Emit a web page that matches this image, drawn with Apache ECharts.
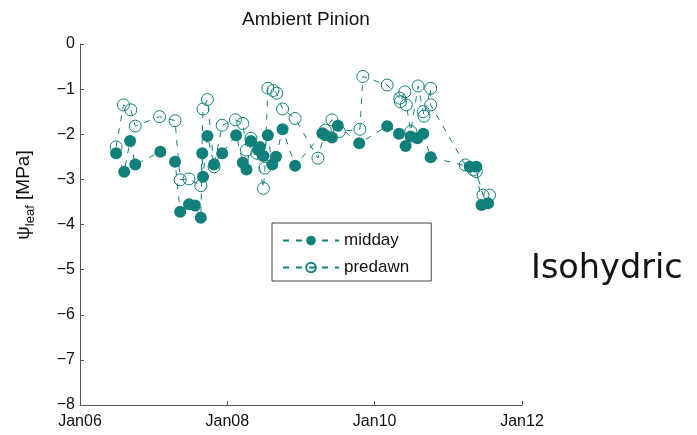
<!DOCTYPE html>
<html>
<head>
<meta charset="utf-8">
<script src="https://cdn.jsdelivr.net/npm/echarts@6/dist/echarts.min.js"></script>
<style>
  html, body { margin: 0; padding: 0; background: #fff; }
  #chart { width: 697px; height: 435px; }
</style>
</head>
<body>
<div id="chart"></div>
<script>
// dates are decimal years (2006.5 = mid 2006)
const middayDates = [2006.49, 2006.60, 2006.68, 2006.75, 2007.09, 2007.29, 2007.36, 2007.48, 2007.56, 2007.64,
  2007.66, 2007.67, 2007.73, 2007.82, 2007.93, 2008.12, 2008.21, 2008.26, 2008.32, 2008.42,
  2008.44, 2008.49, 2008.55, 2008.61, 2008.66, 2008.75, 2008.92, 2009.29, 2009.33, 2009.42,
  2009.50, 2009.79, 2010.17, 2010.33, 2010.42, 2010.49, 2010.58, 2010.66, 2010.76, 2011.29,
  2011.38, 2011.45, 2011.54]
const middayValues = [-2.42, -2.83, -2.15, -2.67, -2.39, -2.61, -3.72, -3.55, -3.58, -3.85,
  -2.42, -2.94, -2.04, -2.67, -2.42, -2.02, -2.63, -2.78, -2.15, -2.35,
  -2.28, -2.48, -2.02, -2.67, -2.50, -1.89, -2.70, -1.98, -2.02, -2.07,
  -1.81, -2.20, -1.82, -1.99, -2.26, -2.05, -2.09, -1.99, -2.51, -2.72,
  -2.72, -3.57, -3.53]

const predawnDates = [2006.49, 2006.59, 2006.69, 2006.75, 2007.08, 2007.29, 2007.36, 2007.48, 2007.64, 2007.67,
  2007.73, 2007.82, 2007.93, 2008.11, 2008.21, 2008.26, 2008.32, 2008.40, 2008.49, 2008.51,
  2008.55, 2008.62, 2008.67, 2008.75, 2008.92, 2009.23, 2009.33, 2009.42, 2009.52, 2009.80,
  2009.84, 2010.17, 2010.34, 2010.35, 2010.41, 2010.43, 2010.49, 2010.59, 2010.66, 2010.67,
  2010.76, 2010.76, 2011.23, 2011.34, 2011.38, 2011.47, 2011.56]
const predawnValues = [-2.28, -1.35, -1.46, -1.82, -1.61, -1.70, -3.01, -2.99, -3.14, -1.44,
  -1.23, -2.72, -1.80, -1.68, -1.76, -2.35, -2.09, -2.42, -3.20, -2.75,
  -0.98, -1.03, -1.09, -1.44, -1.65, -2.53, -1.91, -1.68, -1.94, -1.89,
  -0.72, -0.91, -1.20, -1.28, -1.06, -1.35, -1.94, -0.93, -1.50, -1.60,
  -0.98, -1.35, -2.68, -2.79, -2.83, -3.35, -3.35]

const yearTicks = [2006, 2008, 2010, 2012]
const teal = '#12807a'
const font = '"Liberation Sans", Arial, sans-serif'

const pairs = (xs, ys) => xs.map((x, i) => [x, ys[i]])

const chart = echarts.init(document.getElementById('chart'))
chart.setOption({
  animation: false,
  backgroundColor: '#fff',
  title: {
    text: 'Ambient Pinion',
    left: 301,
    top: 5,
    textAlign: 'center',
    textStyle: { fontFamily: font, fontSize: 19, fontWeight: 'normal', color: '#111' }
  },
  grid: { left: 80, right: 175, top: 44, bottom: 30 },
  legend: {
    orient: 'vertical',
    left: 272,
    top: 223,
    width: 159,
    padding: [9, 22, 5, 10],
    itemGap: 10,
    itemWidth: 56,
    itemHeight: 12,
    borderColor: '#444',
    borderWidth: 1,
    textStyle: { fontFamily: font, fontSize: 17, color: '#111' },
    data: ['midday', 'predawn']
  },
  xAxis: {
    type: 'value',
    min: 2006,
    max: 2012,
    interval: 2,
    axisLine: { onZero: false, lineStyle: { color: '#555', width: 1 } },
    axisTick: { inside: true, length: 4, lineStyle: { color: '#555' } },
    splitLine: { show: false },
    axisLabel: {
      margin: 9,
      fontFamily: font, fontSize: 16, color: '#111',
      formatter: v => yearTicks.includes(v) ? 'Jan' + String(v).slice(2) : ''
    }
  },
  yAxis: {
    type: 'value',
    min: -8,
    max: 0,
    interval: 1,
    axisLine: { show: true, onZero: false, lineStyle: { color: '#555', width: 1 } },
    axisTick: { show: true, inside: true, length: 4, lineStyle: { color: '#555' } },
    splitLine: { show: false },
    axisLabel: {
      margin: 5,
      fontFamily: font, fontSize: 16, color: '#111',
      formatter: v => v < 0 ? '\u2212' + Math.abs(v) : String(v)
    }
  },
  graphic: [
    {
      type: 'text',
      x: 24,
      y: 195,
      rotation: Math.PI / 2,
      style: {
        text: '{a|ψ}{b|leaf}{a| [MPa]}',
        align: 'center',
        verticalAlign: 'middle',
        fill: '#111',
        rich: {
          a: { fontFamily: font, fontSize: 19, fill: '#111' },
          b: { fontFamily: font, fontSize: 13, fill: '#111', padding: [12, 0, 0, 0] }
        }
      }
    },
    {
      type: 'text',
      left: 531,
      top: 252,
      style: { text: 'Isohydric', fontFamily: '"DejaVu Sans", sans-serif', fontSize: 33.5, fill: '#111' }
    }
  ],
  series: [
    {
      name: 'midday',
      type: 'line',
      data: pairs(middayDates, middayValues),
      symbol: 'circle',
      symbolSize: 12,
      itemStyle: { color: teal },
      lineStyle: { color: teal, width: 1, type: [6, 7] }
    },
    {
      name: 'predawn',
      type: 'line',
      data: pairs(predawnDates, predawnValues),
      symbol: 'circle',
      symbolSize: 12,
      itemStyle: { color: 'rgba(255,255,255,0)', borderColor: teal, borderWidth: 1 },
      lineStyle: { color: teal, width: 1, type: [6, 7] }
    }
  ]
})
</script>
</body>
</html>
